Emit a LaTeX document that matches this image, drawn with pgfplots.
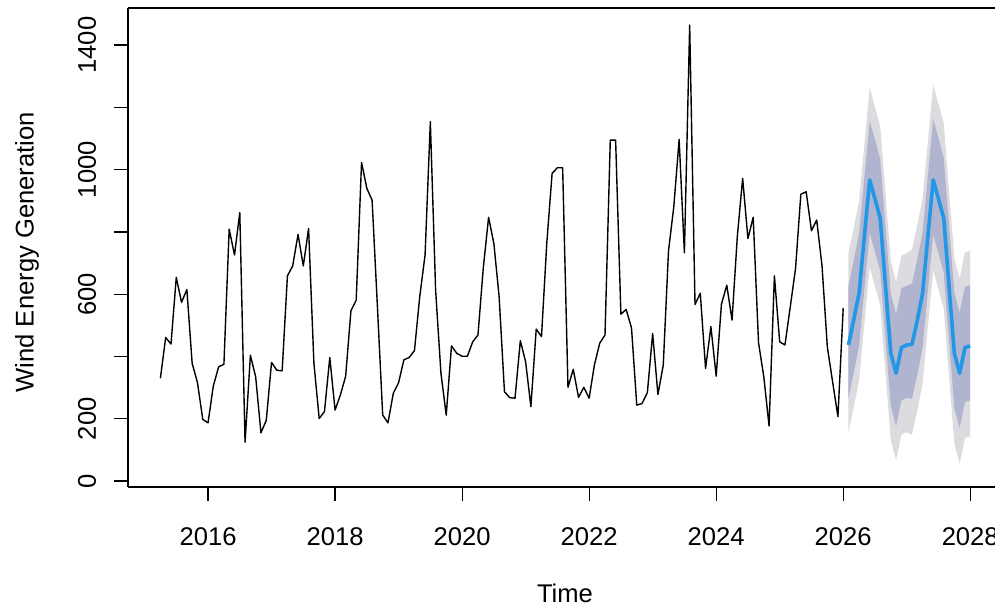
\documentclass[border=0pt]{standalone}
\usepackage{fontspec}
\setmainfont{Liberation Sans}
\usepackage{pgfplots}
\usepgfplotslibrary{fillbetween}
\pgfplotsset{compat=1.18}
\usepackage{pgfplotstable}
\definecolor{band95}{HTML}{DBDBE0}
\definecolor{band80}{HTML}{B0B4CF}
\definecolor{fcblue}{HTML}{2297E6}

\pgfplotstableread{
t v
2015.250 330
2015.333 461
2015.417 440
2015.500 654
2015.583 574
2015.667 615
2015.750 378
2015.833 317
2015.917 198
2016.000 187
2016.083 305
2016.167 367
2016.250 375
2016.333 809
2016.417 726
2016.500 862
2016.583 125
2016.667 404
2016.750 335
2016.833 155
2016.917 195
2017.000 381
2017.083 356
2017.167 354
2017.250 659
2017.333 691
2017.417 792
2017.500 691
2017.583 811
2017.667 378
2017.750 201
2017.833 223
2017.917 397
2018.000 228
2018.083 276
2018.167 337
2018.250 547
2018.333 581
2018.417 1023
2018.500 940
2018.583 902
2018.667 560
2018.750 212
2018.833 187
2018.917 282
2019.000 316
2019.083 389
2019.167 397
2019.250 419
2019.333 592
2019.417 726
2019.500 1154
2019.583 613
2019.667 346
2019.750 212
2019.833 434
2019.917 410
2020.000 401
2020.083 401
2020.167 447
2020.250 469
2020.333 683
2020.417 847
2020.500 763
2020.583 592
2020.667 287
2020.750 268
2020.833 266
2020.917 451
2021.000 383
2021.083 239
2021.167 488
2021.250 464
2021.333 763
2021.417 988
2021.500 1006
2021.583 1006
2021.667 301
2021.750 359
2021.833 269
2021.917 301
2022.000 266
2022.083 373
2022.167 443
2022.250 469
2022.333 1095
2022.417 1095
2022.500 536
2022.583 551
2022.667 492
2022.750 244
2022.833 249
2022.917 284
2023.000 474
2023.083 278
2023.167 372
2023.250 740
2023.333 881
2023.417 1097
2023.500 733
2023.583 1464
2023.667 567
2023.750 603
2023.833 362
2023.917 496
2024.000 337
2024.083 568
2024.167 629
2024.250 517
2024.333 785
2024.417 972
2024.500 779
2024.583 847
2024.667 444
2024.750 335
2024.833 177
2024.917 659
2025.000 447
2025.083 437
2025.167 560
2025.250 683
2025.333 921
2025.417 929
2025.500 804
2025.583 838
2025.667 690
2025.750 431
2025.833 319
2025.917 207
2026.000 555
}\histdata

\pgfplotstableread{
t m lo95 lo80 hi80 hi95
2026.083 437 157 267 627 732
2026.167 519 239 349 709 814
2026.250 603 323 433 793 898
2026.333 785 505 615 975 1080
2026.417 967 687 797 1157 1262
2026.500 906 626 736 1096 1201
2026.583 844 564 674 1034 1139
2026.667 624 344 454 814 919
2026.750 410 130 240 600 705
2026.833 346 66 176 536 641
2026.917 429 149 259 619 724
2027.000 437 157 267 627 732
2027.083 439 149 264 634 744
2027.167 517 227 342 712 822
2027.250 603 313 428 798 908
2027.333 785 495 610 980 1090
2027.417 967 677 792 1162 1272
2027.500 906 616 731 1101 1211
2027.583 844 554 669 1039 1149
2027.667 624 334 449 819 929
2027.750 410 120 235 605 715
2027.833 346 56 171 541 651
2027.917 429 139 254 624 734
2028.000 434 144 259 629 739
}\fcdata

\begin{document}
\begin{tikzpicture}
\begin{axis}[
  scale only axis, width=433.5pt, height=239.5pt,
  xmin=2014.74, xmax=2028.39, ymin=-19, ymax=1519,
  axis x line*=bottom, axis y line*=left,
  axis line style={line width=0.6pt, -},
  xtick={2016,2018,...,2028}, ytick={0,200,...,1400},
  yticklabels={0,200,,600,,1000,,1400},
  xticklabels={2016,2018,2020,2022,2024,2026,2028},
  tick align=outside, major tick length=7pt,
  tick style={black, line width=0.6pt},
  minor tick num=0,
  every tick label/.append style={font=\fontsize{12.8}{15}\selectfont},
  /pgf/number format/assume math mode=true,
  xticklabel style={anchor=center},
  xticklabel shift=18pt,
  yticklabel style={rotate=90, anchor=center},
  yticklabel shift=13.5pt,
  xlabel={Time}, ylabel={Wind Energy Generation},
  xlabel style={at={([yshift=-53pt]axis description cs:0.504,0)}, anchor=center, font=\fontsize{12.8}{15}\selectfont},
  ylabel style={at={([xshift=-50.5pt]axis description cs:0,0.49)}, anchor=center, font=\fontsize{12.8}{15}\selectfont},
]
\addplot[name path=hi95, draw=none, forget plot] table[x=t, y=hi95] {\fcdata};
\addplot[name path=lo95, draw=none, forget plot] table[x=t, y=lo95] {\fcdata};
\addplot[band95, forget plot] fill between[of=hi95 and lo95];
\addplot[name path=hi80, draw=none, forget plot] table[x=t, y=hi80] {\fcdata};
\addplot[name path=lo80, draw=none, forget plot] table[x=t, y=lo80] {\fcdata};
\addplot[band80, forget plot] fill between[of=hi80 and lo80];
\addplot[black, line width=0.7pt, line join=round, mark=none] table[x=t, y=v] {\histdata};
\addplot[fcblue, line width=1.8pt, line join=round, mark=none] table[x=t, y=m] {\fcdata};
\coordinate (bl) at (rel axis cs:0,0);
\coordinate (tr) at (rel axis cs:1,1);
\end{axis}
\draw[line width=0.6pt] (bl |- tr) -- (tr);
\pgfresetboundingbox
\useasboundingbox ([shift={(-64pt,-60pt)}]bl) rectangle ([shift={(0pt,4pt)}]tr);
\end{tikzpicture}
\end{document}
